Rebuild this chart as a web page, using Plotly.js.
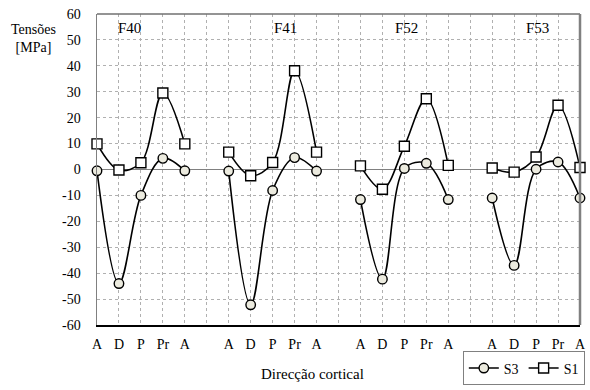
<!DOCTYPE html>
<html>
<head>
<meta charset="utf-8">
<script src="https://cdn.plot.ly/plotly-3.0.1.min.js"></script>
<style>html,body{margin:0;padding:0;background:#fff;}#chart{width:590px;height:390px;}</style>
</head>
<body>
<div id="chart"></div>
<script>
const groups = ['F40', 'F41', 'F52', 'F53'];
const directions = ['A', 'D', 'P', 'Pr', 'A'];
const s3Values = [
  [-0.5, -44, -10, 4.3, -0.5],
  [-0.6, -52.2, -8.1, 4.6, -0.6],
  [-11.6, -42.3, 0.4, 2.4, -11.6],
  [-11, -37, 0.1, 2.9, -11]
];
const s1Values = [
  [9.9, -0.2, 2.6, 29.5, 9.9],
  [6.7, -2.4, 2.7, 38.1, 6.7],
  [1.4, -7.6, 9.0, 27.3, 1.6],
  [0.6, -1.0, 4.8, 24.8, 0.8]
];
const yTickLabels = ['60','50','40','30','20','10','0','-10','-20','-30','-40','-50','-60'];

const xs = [], tickText = [], y3 = [], y1 = [];
groups.forEach((g, gi) => {
  directions.forEach((d, i) => {
    xs.push(xs.length);
    tickText.push(d);
    y3.push(s3Values[gi][i]);
    y1.push(s1Values[gi][i]);
  });
  if (gi < groups.length - 1) {
    xs.push(xs.length);
    tickText.push('');
    y3.push(null);
    y1.push(null);
  }
});

const fam = 'Liberation Serif';
const font = {family: fam, size: 15, color: '#000'};
const tickFont = {family: fam, size: 14, color: '#000'};
const smallFont = {family: fam, size: 14, color: '#000'};

const traces = [
  {
    name: 'S3', x: xs, y: y3, type: 'scatter', mode: 'lines+markers',
    line: {color: '#000', width: 1.6, shape: 'spline', smoothing: 1},
    marker: {symbol: 'circle', size: 9.5, color: '#ECEBDF', line: {color: '#000', width: 1.4}},
    connectgaps: false, cliponaxis: false
  },
  {
    name: 'S1', x: xs, y: y1, type: 'scatter', mode: 'lines+markers',
    line: {color: '#000', width: 1.6, shape: 'spline', smoothing: 1},
    marker: {symbol: 'square', size: 10, color: '#fff', line: {color: '#000', width: 1.4}},
    connectgaps: false, cliponaxis: false
  }
];

const labelX = [1.49, 8.59, 14.1, 20.06];
const annotations = groups.map((g, i) => ({
  x: labelX[i], y: 54.7, xref: 'x', yref: 'y', text: g, showarrow: false,
  font: font, xanchor: 'center', yanchor: 'middle'
}));
annotations.push({
  x: -0.132, y: 0.9225, xref: 'paper', yref: 'paper', text: 'Tensões<br>[MPa]',
  showarrow: false, font: smallFont, xanchor: 'center', yanchor: 'middle', align: 'center'
});
annotations.push({
  x: 0.447, y: -0.158, xref: 'paper', yref: 'paper', text: 'Direcção cortical',
  showarrow: false, font: font, xanchor: 'center', yanchor: 'middle'
});

const tickVals = yTickLabels.map(t => parseFloat(t));

const layout = {
  width: 590, height: 390,
  margin: {l: 97, r: 5, t: 14, b: 60},
  paper_bgcolor: '#fff', plot_bgcolor: '#fff',
  font: font,
  showlegend: true,
  legend: {
    orientation: 'h', x: 1.01, xanchor: 'right', y: -0.085, yanchor: 'top',
    bordercolor: '#808080', borderwidth: 1, font: smallFont,
    itemwidth: 30, tracegroupgap: 0
  },
  xaxis: {
    range: [0, xs.length - 1], tickvals: xs, ticktext: tickText,
    showgrid: true, gridcolor: '#b0b0b0', griddash: 'dot', gridwidth: 1,
    zeroline: false, showline: true, linecolor: '#000', linewidth: 1.5,
    ticks: '', tickfont: tickFont, ticklabelstandoff: 6, fixedrange: true
  },
  yaxis: {
    range: [-60, 60], tickvals: tickVals, ticktext: yTickLabels,
    showgrid: true, gridcolor: '#b0b0b0', griddash: 'dot', gridwidth: 1,
    zeroline: true, zerolinecolor: '#808080', zerolinewidth: 1.5,
    showline: true, linecolor: '#808080', linewidth: 1.5,
    ticks: '', tickfont: tickFont, ticklabelstandoff: 12, fixedrange: true
  },
  shapes: [
    {type: 'line', xref: 'paper', yref: 'paper', x0: 0, x1: 1, y0: 1, y1: 1, line: {color: '#707070', width: 1.5}},
    {type: 'line', xref: 'paper', yref: 'paper', x0: 1, x1: 1, y0: 0, y1: 1, line: {color: '#808080', width: 2.5}}
  ],
  annotations: annotations
};

Plotly.newPlot('chart', traces, layout, {displayModeBar: false, staticPlot: true});
</script>
</body>
</html>
